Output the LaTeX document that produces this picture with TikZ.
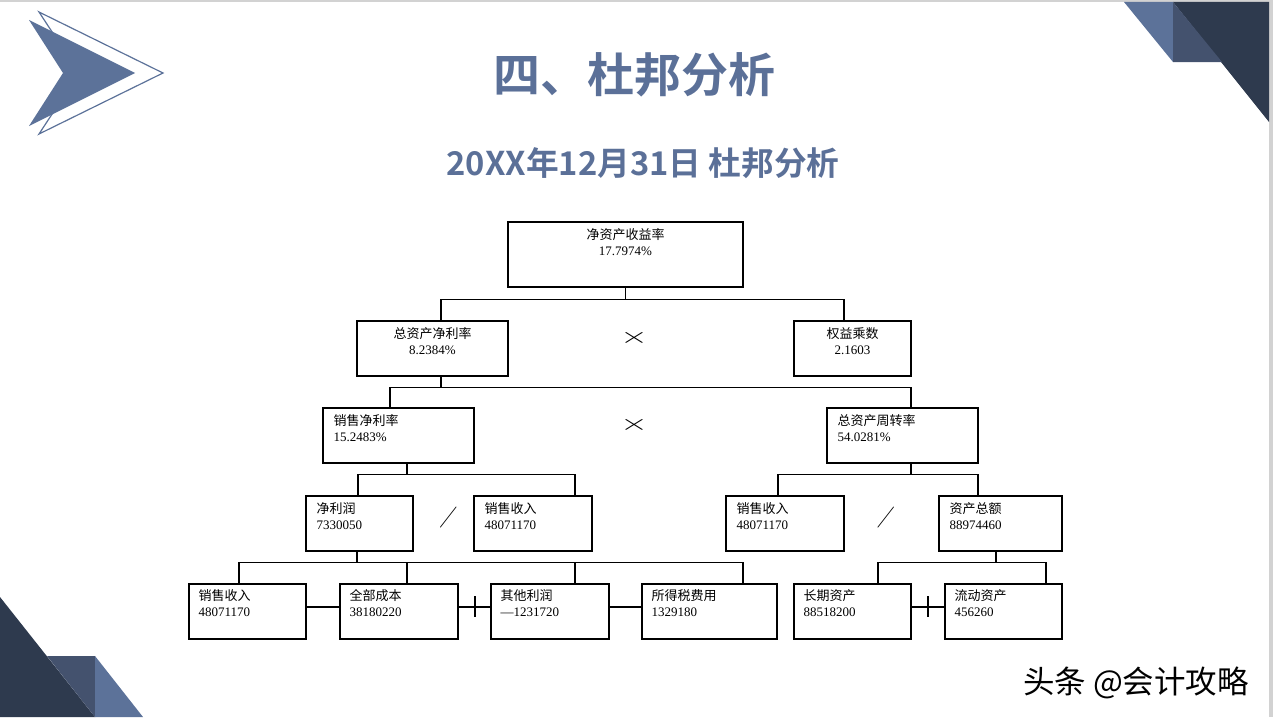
\documentclass[tikz,border=0pt]{standalone}
\usepackage{fontspec}
\usepackage{graphicx}
\usepackage{amssymb}
\setmainfont{Liberation Serif}
\newfontfamily\cjk{Noto Sans CJK SC}[BoldFont={Noto Sans CJK SC Bold}]
\definecolor{slate}{RGB}{91,112,152}
\definecolor{decoLight}{RGB}{92,114,153}
\definecolor{decoMid}{RGB}{68,82,110}
\definecolor{decoDark}{RGB}{46,58,78}
\begin{document}
\begin{tikzpicture}[
  x=1pt, y=-1pt,
  box/.style={draw, line width=1.1pt, rectangle, minimum height=55pt, inner sep=0pt},
  boxtxt/.style={inner sep=0pt, font=\fontsize{13}{16}\selectfont, align=left, anchor=north west},
  boxctr/.style={inner sep=0pt, font=\fontsize{13}{16}\selectfont, align=center, anchor=north},
  conn/.style={line width=1.1pt},
  opsign/.style={inner sep=0pt},
]
\useasboundingbox (0,0) rectangle (1273,717);

%% ── Slide frame and corner decoration ────────────────────────────────────────
\fill[gray!35] (0,0) rectangle (1273,2);
\fill[gray!35] (1269,0) rectangle (1273,717);

\draw[decoLight, line width=1.2pt] (39,12) -- (163,73) -- (39,134) -- (79,73) -- cycle;
\fill[decoLight] (29,20) -- (135,73) -- (29,126) -- (63,73) -- cycle;

\fill[decoLight] (1124,2) -- (1173,2) -- (1173,62) -- cycle;
\fill[decoDark] (1173,2) -- (1269,2) -- (1269,122) -- cycle;
\fill[decoMid] (1173,2) -- (1173,62) -- (1222,62) -- cycle;

\fill[decoDark] (0,597) -- (95,717) -- (0,717) -- cycle;
\fill[decoMid] (47,656) -- (95,656) -- (95,717) -- cycle;
\fill[decoLight] (95,656) -- (143,717) -- (95,717) -- cycle;

%% ── Titles ───────────────────────────────────────────────────────────────────
\node[font=\cjk\bfseries\fontsize{47}{47}\selectfont, text=slate] (title) at (634,75) {四、杜邦分析};
\node[font=\cjk\bfseries\fontsize{32.7}{32.7}\selectfont, text=slate] (subtitle) at (643,163) {20XX年12月31日 杜邦分析};

%% ── Level 1 ──────────────────────────────────────────────────────────────────
\node[box, minimum width=235pt, minimum height=65pt] (roe) at (625.5,254.5) {};
\node[boxctr] (roe-t) at ([yshift=-6.5]roe.north) {{\cjk 净资产收益率}\\17.7974\%};

%% ── Level 2 ──────────────────────────────────────────────────────────────────
\node[box, minimum width=151pt] (ra) at (432.5,348.5) {};
\node[boxctr] (ra-t) at ([yshift=-6.5]ra.north) {{\cjk 总资产净利率}\\8.2384\%};

\node[box, minimum width=117pt] (em) at (852.5,348.5) {};
\node[boxctr] (em-t) at ([yshift=-6.5]em.north) {{\cjk 权益乘数}\\2.1603};

\node[opsign] (mul1) at (634,337.5) {\resizebox{28pt}{13pt}{$\times$}};

\draw[conn] (roe.south) -- ++(0,12) -| ([xshift=8.5]ra.north);
\draw[conn] (roe.south) -- ++(0,12) -| ([xshift=-8.5]em.north);

%% ── Level 3 ──────────────────────────────────────────────────────────────────
\node[box, minimum width=151pt] (npm) at (398.5,435.5) {};
\node[boxtxt] (npm-t) at ([shift={(11,6.5)}]npm.north west) {{\cjk 销售净利率}\\15.2483\%};

\node[box, minimum width=151pt] (tat) at (902.5,435.5) {};
\node[boxtxt] (tat-t) at ([shift={(11,6.5)}]tat.north west) {{\cjk 总资产周转率}\\54.0281\%};

\node[opsign] (mul2) at (634,424.5) {\resizebox{28pt}{13pt}{$\times$}};

\draw[conn] ([xshift=8.5]ra.south) -- ++(0,11) -| ([xshift=-8.5]npm.north);
\draw[conn] ([xshift=8.5]ra.south) -- ++(0,11) -| ([xshift=8.5]tat.north);

%% ── Level 4 ──────────────────────────────────────────────────────────────────
\node[box, minimum width=107pt] (np) at (359.5,523.5) {};
\node[boxtxt] (np-t) at ([shift={(11,6.5)}]np.north west) {{\cjk 净利润}\\7330050};

\node[box, minimum width=118pt] (sr1) at (533,523.5) {};
\node[boxtxt] (sr1-t) at ([shift={(11,6.5)}]sr1.north west) {{\cjk 销售收入}\\48071170};

\node[opsign] (div1) at (448.5,517.5) {\resizebox*{17pt}{21pt}{$\diagup$}};

\node[box, minimum width=118pt] (sr2) at (785,523.5) {};
\node[boxtxt] (sr2-t) at ([shift={(11,6.5)}]sr2.north west) {{\cjk 销售收入}\\48071170};

\node[box, minimum width=123pt] (ta) at (1000.5,523.5) {};
\node[boxtxt] (ta-t) at ([shift={(11,6.5)}]ta.north west) {{\cjk 资产总额}\\88974460};

\node[opsign] (div2) at (886,517.5) {\resizebox*{17pt}{21pt}{$\diagup$}};

\draw[conn] ([xshift=8.5]npm.south) -- ++(0,11) -| ([xshift=-1.5]np.north);
\draw[conn] ([xshift=8.5]npm.south) -- ++(0,11) -| ([xshift=42]sr1.north);
\draw[conn] ([xshift=8.5]tat.south) -- ++(0,11) -| ([xshift=-7]sr2.north);
\draw[conn] ([xshift=8.5]tat.south) -- ++(0,11) -| ([xshift=-22.5]ta.north);

%% ── Level 5 ──────────────────────────────────────────────────────────────────
\node[box, minimum width=117pt] (sr3) at (247.5,611.5) {};
\node[boxtxt] (sr3-t) at ([shift={(10,5.5)}]sr3.north west) {{\cjk 销售收入}\\48071170};

\node[box, minimum width=118pt] (tc) at (399,611.5) {};
\node[boxtxt] (tc-t) at ([shift={(10,5.5)}]tc.north west) {{\cjk 全部成本}\\38180220};

\node[box, minimum width=118pt] (op) at (550,611.5) {};
\node[boxtxt] (op-t) at ([shift={(10,5.5)}]op.north west) {{\cjk 其他利润}\\—1231720};

\node[box, minimum width=135pt] (tax) at (709.5,611.5) {};
\node[boxtxt] (tax-t) at ([shift={(10,5.5)}]tax.north west) {{\cjk 所得税费用}\\1329180};

\node[box, minimum width=117pt] (la) at (852.5,611.5) {};
\node[boxtxt] (la-t) at ([shift={(10,5.5)}]la.north west) {{\cjk 长期资产}\\88518200};

\node[box, minimum width=117pt] (ca) at (1003.5,611.5) {};
\node[boxtxt] (ca-t) at ([shift={(10,5.5)}]ca.north west) {{\cjk 流动资产}\\456260};

\draw[conn] ([xshift=-2.5]np.south) -- ++(0,11) -| ([xshift=-8.5]sr3.north);
\draw[conn] ([xshift=-2.5]np.south) -- ++(0,11) -| ([xshift=8]tc.north);
\draw[conn] ([xshift=-2.5]np.south) -- ++(0,11) -| ([xshift=25]op.north);
\draw[conn] ([xshift=-2.5]np.south) -- ++(0,11) -| ([xshift=33.5]tax.north);
\draw[conn] ([xshift=-4.5]ta.south) -- ++(0,11) -| ([xshift=25.5]la.north);
\draw[conn] ([xshift=-4.5]ta.south) -- ++(0,11) -| ([xshift=42.5]ca.north);

%% operators between the bottom boxes
\draw[conn] ([yshift=4.5]sr3.east) -- ([yshift=4.5]tc.west);
\draw[conn] ([yshift=4.5]tc.east) -- ([yshift=4.5]op.west);
\draw[conn] (475,596) -- (475,617);
\draw[conn] ([yshift=4.5]op.east) -- ([yshift=4.5]tax.west);
\draw[conn] ([yshift=4.5]la.east) -- ([yshift=4.5]ca.west);
\draw[conn] (928,596) -- (928,617);

%% ── Watermark ────────────────────────────────────────────────────────────────
\node[font=\cjk\fontsize{31.5}{31.5}\selectfont] (mark) at (1136,683) {头条 @会计攻略};

\end{tikzpicture}
\end{document}
